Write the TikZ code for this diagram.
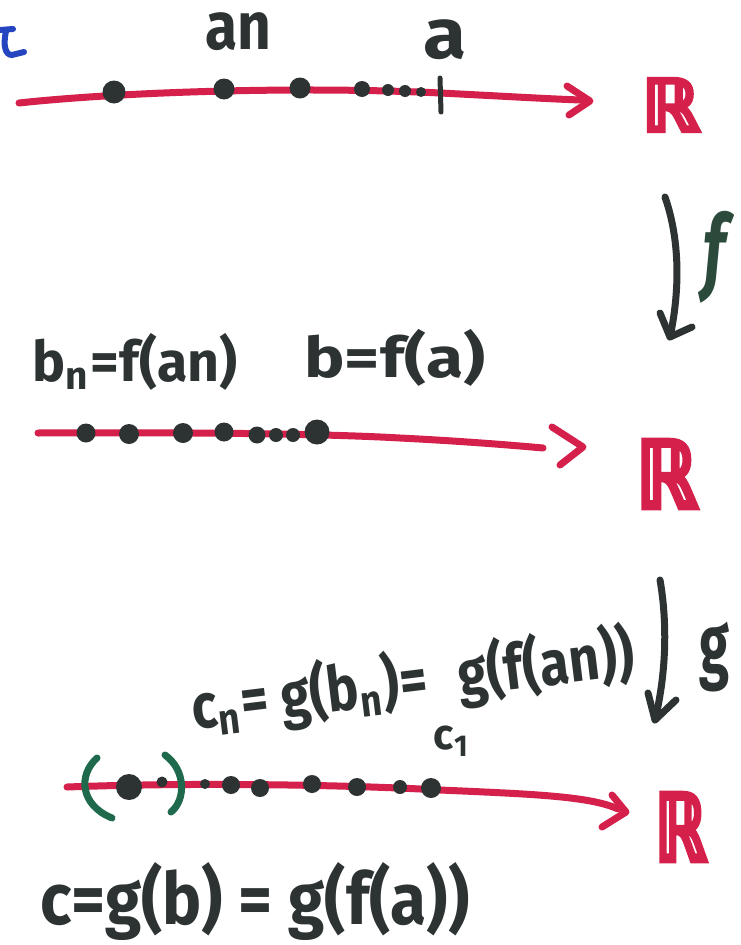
\documentclass[tikz,border=0pt]{standalone}
\usepackage{fontspec}
\usepackage{graphicx}
\setmainfont{Fira Sans}
\newfontfamily\symfont[FakeBold=6]{DejaVu Sans}
\definecolor{ink}{HTML}{2D3333}
\definecolor{rline}{HTML}{D4204A}
\definecolor{pgreen}{HTML}{1F6A4C}
\definecolor{fgreen}{HTML}{2C4A3C}
\definecolor{pblue}{HTML}{2444C0}
\newcommand{\fitt}[3]{\resizebox*{#1pt}{#2pt}{\bfseries #3}}
\newcommand{\fitr}[2]{\resizebox*{#1pt}{#2pt}{\symfont ℝ}}
\tikzset{
  redline/.style={draw=rline,line width=7pt,line cap=round,line join=round},
  inkline/.style={draw=ink,line width=7pt,line cap=round,line join=round},
  greenline/.style={draw=pgreen,line width=7pt,line cap=round,line join=round},
  dotnode/.style={circle,fill=ink,inner sep=0pt,minimum size=#1},
  dotnode/.default=18,
  lbl/.style={text=ink,inner sep=0pt,anchor=center},
  reals/.style={text=rline,inner sep=0pt,anchor=center}
}
\begin{document}
\begin{tikzpicture}[x=1pt,y=-1pt]
\useasboundingbox (0,0) rectangle (740,945);
\fill[white] (0,0) rectangle (740,945);

% blue fragment at top left
\draw[draw=pblue,line width=6pt,line cap=round] (0,30) -- (13,29);
\draw[draw=pblue,line width=6pt,line cap=round] (6,31) .. controls (3,45) and (5,55) .. (12,55) -- (24,52);

% ---------- line 1 ----------
\coordinate (l1s) at (19,103);
\coordinate (l1m) at (440,93);
\coordinate (l1e) at (581,100);
\draw[redline] (l1s) .. controls (120,92) and (300,86) .. (l1m) .. controls (500,96) and (550,99) .. (l1e);
\coordinate (h1a) at (567,86);
\coordinate (h1t) at (590,101);
\coordinate (h1b) at (569,115);
\draw[redline] (h1a) -- (h1t) -- (h1b);
\node[dotnode=23] (a1) at (114,92) {};
\node[dotnode=21] (a2) at (224,89) {};
\node[dotnode=21] (a3) at (300,88) {};
\node[dotnode=16] (a4) at (362,89) {};
\node[dotnode=12] (a5) at (388,90) {};
\node[dotnode=12] (a6) at (405,91) {};
\node[dotnode=10] (a7) at (421,92) {};
\coordinate (tickt) at (440,78);
\coordinate (tickb) at (441,112);
\draw[inkline,line width=5pt] (tickt) -- (tickb);
\node[lbl] (an) at (238,32) {\fitt{66}{38}{an}};
\node[lbl] (alab) at (445,40) {\fitt{43}{40}{a}};
\node[reals] (R1) at (671,105) {\fitr{58}{52}};

% ---------- arrow f ----------
\coordinate (fs) at (665,197);
\coordinate (fe) at (670,337);
\draw[inkline] (fs) .. controls (680,240) and (680,290) .. (fe);
\coordinate (fha) at (660,313);
\coordinate (fhb) at (692,327);
\draw[inkline] (fha) -- (fe) -- (fhb);
\node[lbl,text=fgreen] (flab) at (714,257) {\resizebox*{22pt}{92pt}{\bfseries\itshape f}};

% ---------- line 2 ----------
\coordinate (l2s) at (38,433);
\coordinate (l2m) at (400,438);
\coordinate (l2e) at (543,448);
\draw[redline] (l2s) .. controls (200,432) and (330,434) .. (l2m) .. controls (460,441) and (510,445) .. (l2e);
\coordinate (h2a) at (552,427);
\coordinate (h2t) at (583,447);
\coordinate (h2b) at (560,465);
\draw[redline] (h2a) -- (h2t) -- (h2b);
\node[dotnode=19] (b1) at (86,433) {};
\node[dotnode=20] (b2) at (129,434) {};
\node[dotnode=20] (b3) at (183,433) {};
\node[dotnode=19] (b4) at (224,432) {};
\node[dotnode=17] (b5) at (257,435) {};
\node[dotnode=14] (b6) at (276,435) {};
\node[dotnode=14] (b7) at (293,435) {};
\node[dotnode=25] (b8) at (317,432) {};
\node[lbl] (bnlab) at (135,362) {\fitt{205}{57}{b\textsubscript{n}=f(an)}};
\node[lbl] (blab) at (395,358) {\fitt{181}{57}{b=f(a)}};
\node[reals] (R2) at (667,474) {\fitr{62}{67}};

% ---------- arrow g ----------
\coordinate (gs) at (660,580);
\coordinate (ge) at (655,720);
\draw[inkline] (gs) .. controls (667,620) and (667,670) .. (ge);
\coordinate (gha) at (648,693);
\coordinate (ghb) at (676,700);
\draw[inkline] (gha) -- (ge) -- (ghb);
\node[lbl] (glab) at (714,657) {\fitt{30}{70}{g}};

% ---------- line 3 ----------
\coordinate (l3s) at (67,787);
\coordinate (l3m) at (440,790);
\coordinate (l3e) at (618,809);
\draw[redline] (l3s) .. controls (200,782) and (350,785) .. (l3m) .. controls (530,794) and (590,796) .. (l3e);
\coordinate (h3a) at (612,795);
\coordinate (h3t) at (626,812);
\coordinate (h3b) at (602,827);
\draw[redline] (h3a) -- (h3t) -- (h3b);
\node[dotnode=26] (c1) at (129,787) {};
\node[dotnode=11] (c2) at (162,782) {};
\node[dotnode=10] (c3) at (205,784) {};
\node[dotnode=18] (c4) at (231,785) {};
\node[dotnode=18] (c5) at (260,788) {};
\node[dotnode=18] (c6) at (312,784) {};
\node[dotnode=18] (c7) at (357,787) {};
\node[dotnode=14] (c8) at (400,787) {};
\node[dotnode=20] (c9) at (431,788) {};
% green parentheses
\coordinate (pla) at (97,758);
\coordinate (plb) at (112,818);
\draw[greenline] (pla) .. controls (78,775) and (80,805) .. (plb);
\coordinate (pra) at (165,755);
\coordinate (prb) at (171,812);
\draw[greenline] (pra) .. controls (186,770) and (186,800) .. (prb);
\node[reals] (R3) at (681,827) {\fitr{52}{67}};

\node[lbl,rotate=7] (cnlab) at (413,682) {\fitt{445}{68}{c\textsubscript{n}= g(b\textsubscript{n})=\hspace{0.6em}g(f(an))}};
\node[lbl] (c1lab) at (452,741) {\fitt{36}{30}{c\textsubscript{1}}};
\node[lbl] (clab) at (255,901) {\fitt{429}{78}{c=g(b) = g(f(a))}};
\end{tikzpicture}
\end{document}
